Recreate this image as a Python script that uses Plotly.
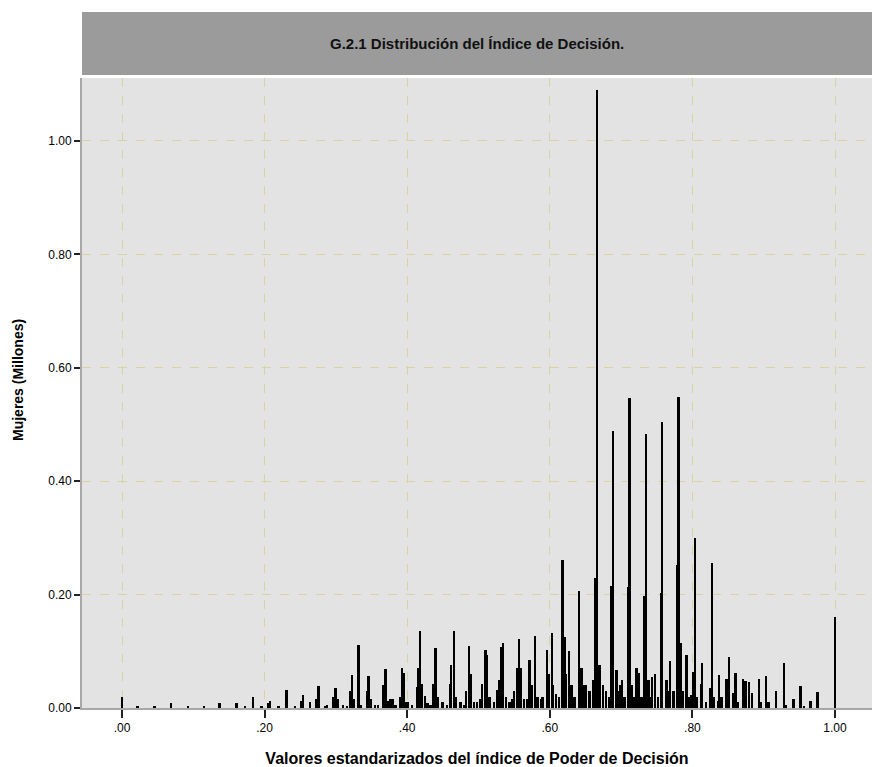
import plotly.graph_objects as go

# Standardized decision-power index values (x) and counts in millions (y)
index_values = [
    0.000, 0.022, 0.046, 0.069, 0.093, 0.115, 0.137, 0.161, 0.173, 0.184,
    0.196, 0.205, 0.208, 0.220, 0.231, 0.243, 0.251, 0.254, 0.264, 0.273,
    0.276, 0.285, 0.288, 0.297, 0.300, 0.303, 0.310, 0.316, 0.320, 0.323,
    0.325, 0.332, 0.335, 0.344, 0.346, 0.349, 0.355, 0.359, 0.366, 0.367,
    0.370, 0.373, 0.377, 0.380, 0.384, 0.391, 0.393, 0.396, 0.398, 0.401,
    0.407, 0.414, 0.416, 0.418, 0.421, 0.425, 0.429, 0.433, 0.437, 0.440,
    0.443, 0.450, 0.456, 0.460, 0.462, 0.466, 0.468, 0.475, 0.480, 0.483,
    0.487, 0.489, 0.494, 0.498, 0.502, 0.505, 0.510, 0.512, 0.516, 0.522,
    0.527, 0.529, 0.532, 0.535, 0.539, 0.544, 0.547, 0.550, 0.554, 0.557,
    0.560, 0.564, 0.568, 0.572, 0.575, 0.580, 0.583, 0.588, 0.590, 0.596,
    0.599, 0.603, 0.605, 0.609, 0.613, 0.618, 0.621, 0.623, 0.627, 0.631,
    0.635, 0.641, 0.645, 0.648, 0.651, 0.656, 0.661, 0.664, 0.667, 0.670,
    0.675, 0.679, 0.683, 0.687, 0.689, 0.694, 0.697, 0.699, 0.702, 0.705,
    0.710, 0.712, 0.715, 0.719, 0.722, 0.725, 0.729, 0.733, 0.735, 0.739,
    0.741, 0.744, 0.748, 0.752, 0.756, 0.758, 0.764, 0.766, 0.769, 0.774,
    0.779, 0.781, 0.784, 0.787, 0.792, 0.795, 0.799, 0.801, 0.804, 0.807,
    0.812, 0.814, 0.819, 0.825, 0.828, 0.831, 0.836, 0.838, 0.841, 0.848,
    0.852, 0.857, 0.861, 0.864, 0.871, 0.875, 0.880, 0.884, 0.894, 0.897,
    0.904, 0.907, 0.918, 0.929, 0.932, 0.942, 0.952, 0.957, 0.966, 0.976,
    1.000,
]
mujeres_millones = [
    0.020, 0.003, 0.003, 0.008, 0.003, 0.004, 0.008, 0.008, 0.003, 0.019,
    0.003, 0.008, 0.013, 0.004, 0.032, 0.004, 0.012, 0.023, 0.010, 0.015,
    0.038, 0.004, 0.005, 0.020, 0.036, 0.015, 0.005, 0.004, 0.030, 0.058,
    0.015, 0.111, 0.005, 0.030, 0.057, 0.015, 0.005, 0.005, 0.020, 0.040,
    0.068, 0.012, 0.015, 0.016, 0.005, 0.020, 0.071, 0.062, 0.010, 0.010,
    0.005, 0.037, 0.070, 0.136, 0.042, 0.021, 0.008, 0.005, 0.043, 0.106,
    0.020, 0.010, 0.006, 0.043, 0.075, 0.136, 0.020, 0.010, 0.006, 0.030,
    0.110, 0.060, 0.010, 0.010, 0.015, 0.043, 0.103, 0.094, 0.020, 0.010,
    0.031, 0.049, 0.107, 0.114, 0.020, 0.010, 0.015, 0.030, 0.070, 0.121,
    0.070, 0.015, 0.015, 0.085, 0.040, 0.127, 0.020, 0.015, 0.020, 0.103,
    0.060, 0.132, 0.040, 0.025, 0.020, 0.261, 0.125, 0.060, 0.100, 0.040,
    0.020, 0.207, 0.070, 0.040, 0.040, 0.030, 0.050, 0.229, 1.090, 0.075,
    0.040, 0.030, 0.020, 0.216, 0.488, 0.067, 0.030, 0.040, 0.050, 0.020,
    0.214, 0.547, 0.040, 0.020, 0.071, 0.062, 0.020, 0.198, 0.483, 0.050,
    0.020, 0.055, 0.060, 0.020, 0.202, 0.504, 0.050, 0.030, 0.083, 0.030,
    0.252, 0.549, 0.114, 0.030, 0.093, 0.020, 0.023, 0.063, 0.299, 0.020,
    0.043, 0.080, 0.010, 0.035, 0.256, 0.020, 0.013, 0.059, 0.020, 0.051,
    0.090, 0.027, 0.062, 0.010, 0.051, 0.048, 0.045, 0.027, 0.052, 0.010,
    0.057, 0.010, 0.030, 0.079, 0.005, 0.015, 0.038, 0.003, 0.013, 0.028,
    0.160,
]

x_tickvals = [0.0, 0.2, 0.4, 0.6, 0.8, 1.0]
x_ticktext = [".00", ".20", ".40", ".60", ".80", "1.00"]
y_tickvals = [0.0, 0.2, 0.4, 0.6, 0.8, 1.0]
y_ticktext = ["0.00", "0.20", "0.40", "0.60", "0.80", "1.00"]

title_text = "G.2.1 Distribución del Índice de Decisión."
x_title = "Valores estandarizados del índice de Poder de Decisión"
y_title = "Mujeres (Millones)"

FONT = "Liberation Sans, Arial, sans-serif"
GRID = "#d9d3a2"

fig = go.Figure()
fig.add_trace(go.Bar(
    x=index_values,
    y=mujeres_millones,
    width=0.0026,
    marker=dict(color="#000000", line=dict(width=0)),
    showlegend=False,
))

fig.update_layout(
    width=872,
    height=767,
    margin=dict(l=82, r=0, t=78, b=59),
    paper_bgcolor="#ffffff",
    plot_bgcolor="#e3e3e3",
    font=dict(family=FONT, color="#000000", size=12),
    bargap=0,
    xaxis=dict(
        range=[-0.0561, 1.0519],
        tickvals=x_tickvals,
        ticktext=x_ticktext,
        ticks="outside",
        ticklen=8,
        tickwidth=2,
        tickcolor="#222222",
        showline=True,
        linecolor="#a8a8a8",
        linewidth=2,
        showgrid=True,
        gridcolor=GRID,
        griddash="dash",
        gridwidth=1,
        zeroline=False,
        tickfont=dict(family=FONT, size=12),
        title=dict(text="<b>" + x_title + "</b>",
                   font=dict(family=FONT, size=16), standoff=18),
    ),
    yaxis=dict(
        range=[0, 1.1111],
        tickvals=y_tickvals,
        ticktext=y_ticktext,
        ticks="outside",
        ticklen=6,
        tickwidth=2,
        tickcolor="#222222",
        showline=True,
        linecolor="#a8a8a8",
        linewidth=2,
        showgrid=True,
        gridcolor=GRID,
        griddash="dash",
        gridwidth=1,
        zeroline=False,
        tickfont=dict(family=FONT, size=12),
    ),
    shapes=[
        dict(type="rect", xref="paper", yref="paper",
             x0=0, x1=1, y0=1 + 3 / 630, y1=1 + 66 / 630,
             fillcolor="#9b9b9b", line=dict(width=0), layer="below"),
    ],
    annotations=[
        dict(text="<b>" + title_text + "</b>", xref="paper", yref="paper",
             x=0.5, y=1 + 34.5 / 630, xanchor="center", yanchor="middle",
             showarrow=False, font=dict(family=FONT, size=15, color="#111111")),
        dict(text="<b>" + y_title + "</b>", xref="paper", yref="paper",
             x=-64 / 790, y=(708 - 380) / 630, xanchor="center", yanchor="middle",
             textangle=-90, showarrow=False,
             font=dict(family=FONT, size=14, color="#000000")),
    ],
)

fig.write_html("out.html")
